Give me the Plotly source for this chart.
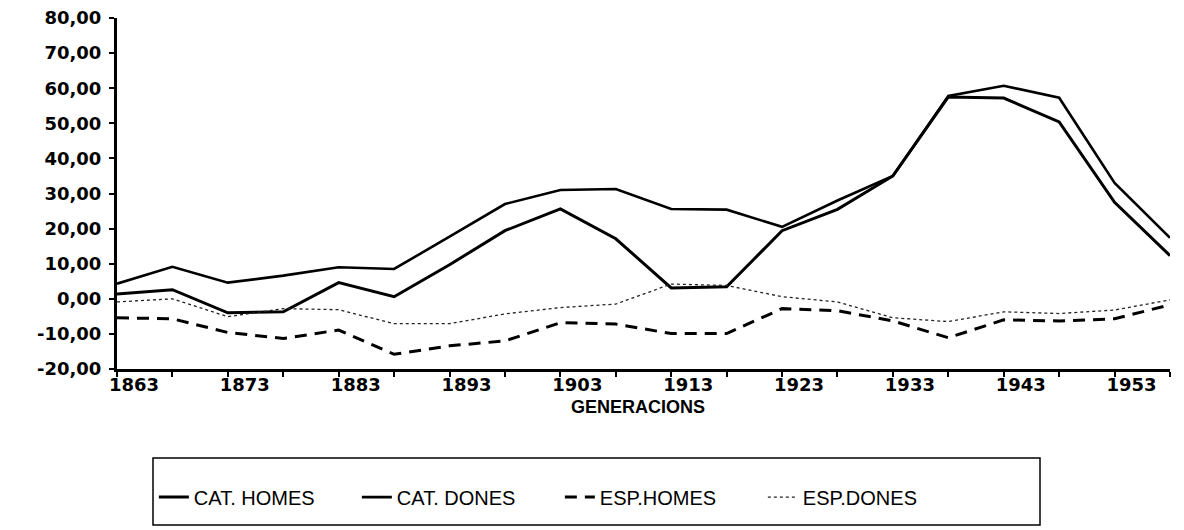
import plotly.graph_objects as go

years = [1863, 1868, 1873, 1878, 1883, 1888, 1893, 1898, 1903, 1908,
         1913, 1918, 1923, 1928, 1933, 1938, 1943, 1948, 1953, 1958]

cat_homes = [1.4, 2.6, -4.0, -3.7, 4.6, 0.6, 9.7, 19.4, 25.6, 17.1,
             3.1, 3.4, 19.4, 25.5, 35.0, 57.5, 57.2, 50.4, 27.5, 12.3]
cat_dones = [4.3, 9.1, 4.6, 6.6, 9.0, 8.5, 17.7, 27.0, 31.0, 31.3,
             25.6, 25.4, 20.5, 28.0, 35.0, 57.8, 60.7, 57.3, 33.0, 17.4]
esp_homes = [-5.4, -5.7, -9.6, -11.3, -8.9, -15.8, -13.4, -12.0, -6.8, -7.2,
             -9.9, -9.9, -2.8, -3.4, -6.3, -11.1, -6.0, -6.3, -5.7, -1.7]
esp_dones = [-0.9, 0.0, -5.1, -2.8, -3.1, -7.1, -7.1, -4.3, -2.5, -1.5,
             4.2, 3.8, 0.6, -0.9, -5.4, -6.5, -3.7, -4.2, -3.2, -0.3]

x_tickvals = [1863, 1873, 1883, 1893, 1903, 1913, 1923, 1933, 1943, 1953]
x_ticktext = ["1863", "1873", "1883", "1893", "1903", "1913", "1923", "1933", "1943", "1953"]
y_tickvals = [-20, -10, 0, 10, 20, 30, 40, 50, 60, 70, 80]
y_ticktext = ["-20,00", "-10,00", "0,00", "10,00", "20,00", "30,00",
              "40,00", "50,00", "60,00", "70,00", "80,00"]

fig = go.Figure()
fig.add_trace(go.Scatter(x=years, y=cat_homes, name="CAT. HOMES", mode="lines",
                         line=dict(color="black", width=3)))
fig.add_trace(go.Scatter(x=years, y=cat_dones, name="CAT. DONES", mode="lines",
                         line=dict(color="black", width=2.6)))
fig.add_trace(go.Scatter(x=years, y=esp_homes, name="ESP.HOMES", mode="lines",
                         line=dict(color="black", width=3, dash="12px,8px")))
fig.add_trace(go.Scatter(x=years, y=esp_dones, name="ESP.DONES", mode="lines",
                         line=dict(color="#222", width=1.3, dash="dot")))

axis_font = dict(family="DejaVu Sans", size=18, color="black", weight="bold")

fig.update_layout(
    width=1184, height=530,
    margin=dict(l=117, r=14, t=18, b=161, autoexpand=False),
    plot_bgcolor="white", paper_bgcolor="white",
    showlegend=True,
    legend=dict(orientation="h", x=0.035, xanchor="left", y=-0.365, yanchor="middle",
                font=dict(family="Liberation Sans Narrow, Liberation Sans", size=20, color="black"),
                bgcolor="rgba(0,0,0,0)", borderwidth=0,
                entrywidth=158, entrywidthmode="pixels"),
    xaxis=dict(range=[1863, 1958], tickvals=x_tickvals, ticktext=x_ticktext,
               showline=True, linecolor="black", linewidth=3,
               ticks="outside", ticklen=5, tickwidth=2, tickcolor="black",
               minor=dict(ticks="outside", tick0=1863, dtick=5, ticklen=5, tickwidth=2, tickcolor="black"),
               showgrid=False, zeroline=False, tickfont=axis_font, automargin=False,
               ticklabelshift=17, ticklabelstandoff=-8),
    yaxis=dict(range=[-20, 80], tickvals=y_tickvals, ticktext=y_ticktext,
               showline=True, linecolor="black", linewidth=3,
               ticks="outside", ticklen=5, tickwidth=2, tickcolor="black",
               showgrid=False, zeroline=False, tickfont=axis_font, automargin=False,
               ticklabelstandoff=4),
    shapes=[dict(type="rect", xref="paper", yref="paper",
                 x0=(153 - 117) / 1053, x1=(1040 - 117) / 1053,
                 y0=(369 - 525) / 351, y1=(369 - 458) / 351,
                 line=dict(color="black", width=1.5))],
    annotations=[dict(text="GENERACIONS", xref="paper", yref="paper",
                      x=(638 - 117) / 1053, y=(369 - 407) / 351,
                      xanchor="center", yanchor="middle", showarrow=False,
                      font=dict(family="Liberation Sans Narrow, Liberation Sans", size=18,
                                color="black", weight="bold"))],
)

fig.write_html("out.html", config={"displayModeBar": False},
               post_script="document.body.style.margin='0';document.body.style.padding='0';")
